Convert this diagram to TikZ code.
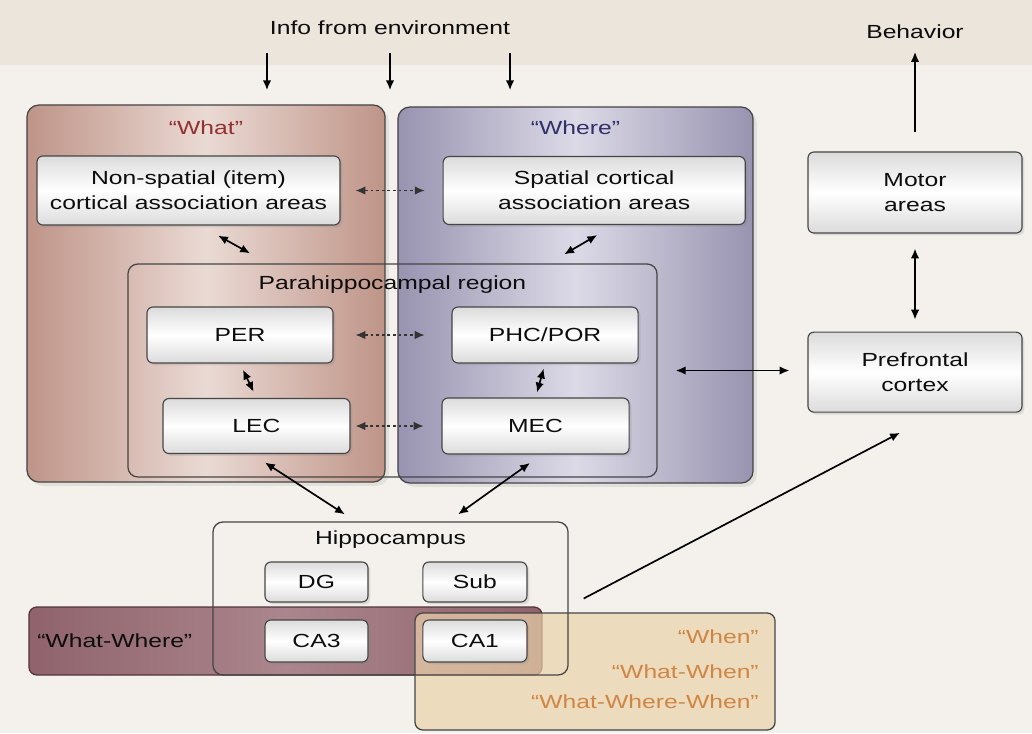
\documentclass[tikz,border=0pt]{standalone}
\usepackage{fontspec}
\setmainfont[FakeStretch=1.3]{Liberation Sans}
\usetikzlibrary{positioning,shadows,arrows.meta}
\definecolor{bgpaper}{HTML}{F4F1EC}
\definecolor{bgband}{HTML}{ECE5DC}
\definecolor{whatside}{HTML}{BF9488}
\definecolor{whatmid}{HTML}{EADAD4}
\definecolor{whereside}{HTML}{9893B0}
\definecolor{wheremid}{HTML}{DCDAE7}
\definecolor{whatred}{HTML}{933030}
\definecolor{whereblue}{HTML}{30306A}
\definecolor{wwband}{HTML}{885862}
\definecolor{wwmid}{HTML}{A57D85}
\definecolor{whenband}{HTML}{EBD3AA}
\definecolor{whenorange}{HTML}{CF8645}
\definecolor{edgegray}{HTML}{454545}
\tikzstyle{region}=[draw=edgegray, rounded corners=0.3cm, line width=0.9pt]
\tikzstyle{box}=[draw=edgegray, rounded corners=0.15cm, line width=0.8pt, top color=black!14, bottom color=black!14, middle color=white, align=center, drop shadow={opacity=0.2,shadow xshift=0.06cm,shadow yshift=-0.06cm}]
\tikzstyle{link}=[<->, line width=1.2pt]
\tikzstyle{dlink}=[<->, line width=0.8pt, dash pattern=on 2pt off 2pt, black!80]
\begin{document}
\begin{tikzpicture}[x=0.025cm, y=-0.025cm, >={Latex[length=7pt,width=6pt]}, font=\fontsize{13.5}{17.5}\selectfont, text=black!95]
\fill[bgpaper] (0,0) rectangle (1032,733);
\fill[bgband] (0,0) rectangle (1032,65);
\useasboundingbox (0,0) rectangle (1032,733);

% what / where streams
\node[region, left color=whatside, right color=whatside, middle color=whatmid, minimum width=8.95cm, minimum height=9.425cm, drop shadow={opacity=0.15}] (what) at (206,293.5) {};
\node[region, left color=whereside, right color=whereside, middle color=wheremid, minimum width=8.875cm, minimum height=9.4cm, drop shadow={opacity=0.15}] (where) at (575.5,295) {};
\node[text=whatred] (whatlbl) at ([yshift=-0.575cm]what.north) {“What”};
\node[text=whereblue] (wherelbl) at ([yshift=-0.525cm]where.north) {“Where”};

\node[region, rounded corners=0.25cm, minimum width=13.225cm, minimum height=5.325cm] (para) at (392.5,370.5) {};
\node (paralbl) at ([yshift=-0.53cm]para.north) {Parahippocampal region};

\node[box, minimum width=7.575cm, minimum height=1.725cm] (nonsp) at (188.5,190.5) {Non-spatial (item)\\cortical association areas};
\node[box, minimum width=7.55cm, minimum height=1.7cm, right of=nonsp, node distance=10.14cm] (spat) {Spatial cortical\\association areas};
\node[box, minimum width=4.65cm, minimum height=1.4cm] (per) at (240,335) {PER};
\node[box, minimum width=4.65cm, minimum height=1.4cm, right of=per, node distance=7.625cm] (phc) {PHC/POR};
\node[box, minimum width=4.675cm, minimum height=1.375cm] (lec) at (256.5,426) {LEC};
\node[box, minimum width=4.675cm, minimum height=1.4cm, right of=lec, node distance=6.975cm] (mec) {MEC};

% output side
\node[box, minimum width=5.35cm, minimum height=2.025cm] (motor) at (915,192.5) {Motor\\areas};
\node[box, minimum width=5.35cm, minimum height=2cm, below of=motor, node distance=4.49cm] (pfc) {Prefrontal\\cortex};
\node (info) at (390,28) {Info from environment};
\node (behav) at (915,32) {Behavior};

% hippocampus and bands
\node[region, rounded corners=0.2cm, draw=wwband!60!black, left color=wwband, right color=wwband, middle color=wwmid, fill opacity=0.92, minimum width=12.825cm, minimum height=1.7cm] (ww) at (285.5,641) {};
\node[region, rounded corners=0.2cm, fill=whenband, fill opacity=0.7, minimum width=9cm, minimum height=2.925cm] (when) at (595,671.5) {};
\node[region, rounded corners=0.25cm, minimum width=8.875cm, minimum height=3.825cm] (hippo) at (390.5,598.5) {};
\node (hippolbl) at ([yshift=-0.45cm]hippo.north) {Hippocampus};
\node[right=0.1cm of ww.west] (wwlbl) {“What-Where”};
\node[anchor=east, text=whenorange] (whenA) at ([xshift=-0.3cm,yshift=0.86cm]when.east) {“When”};
\node[anchor=east, text=whenorange] (whenB) at ([xshift=-0.3cm]when.east) {“What-When”};
\node[anchor=east, text=whenorange] (whenC) at ([xshift=-0.3cm,yshift=-0.76cm]when.east) {“What-Where-When”};

\node[box, minimum width=2.575cm, minimum height=1cm] (dg) at (316.5,582) {DG};
\node[box, minimum width=2.6cm, minimum height=1cm, right of=dg, node distance=3.96cm] (sub) {Sub};
\node[box, minimum width=2.575cm, minimum height=1.05cm] (ca3) at (316.5,641) {CA3};
\node[box, minimum width=2.6cm, minimum height=1.05cm, right of=ca3, node distance=3.96cm] (ca1) {CA1};

% connections
\foreach \dx in {-3.075,0,3}
  \draw[->, line width=1.2pt] ([xshift=\dx cm, yshift=-0.33cm]info.south) -- ++(0,-0.925cm);
\draw[->, line width=1.2pt, shorten <=0.475cm, shorten >=0.2cm] (motor.north) -- (behav.south);
\draw[link, shorten <=0.375cm, shorten >=0.3cm] (motor.south) -- (pfc.north);
\draw[link, shorten <=0.45cm, shorten >=0.45cm] (para.east) -- (para.east -| pfc.west);
\draw[dlink, shorten <=0.375cm, shorten >=0.45cm] (nonsp.east) -- (nonsp.east -| spat.west);
\draw[dlink, shorten <=0.55cm, shorten >=0.675cm] (per.east) -- (phc.west);
\draw[dlink, shorten <=0.125cm, shorten >=0.45cm] (lec.east) -- (lec.east -| mec.west);
\draw[link] ([xshift=0.74cm,yshift=-0.25cm]nonsp.south) -- ([xshift=-3.56cm,yshift=0.25cm]para.north);
\draw[link] ([xshift=0.075cm,yshift=-0.25cm]spat.south) -- ([xshift=4.29cm,yshift=0.225cm]para.north);
\draw[link, shorten <=0.17cm, shorten >=0.17cm] (per.south) -- (lec.north);
\draw[link, shorten <=0.13cm, shorten >=0.13cm] (phc.south) -- (mec.north);
\draw[link] ([xshift=0.21cm,yshift=-0.21cm]lec.south) -- ([xshift=-1.14cm,yshift=0.175cm]hippo.north);
\draw[link] ([xshift=-0.14cm,yshift=-0.21cm]mec.south) -- ([xshift=1.69cm,yshift=0.175cm]hippo.north);
\draw[->, line width=1.2pt] ([xshift=0.375cm]hippo.east) -- ([xshift=-0.375cm,yshift=-0.5cm]pfc.south);
\end{tikzpicture}
\end{document}
